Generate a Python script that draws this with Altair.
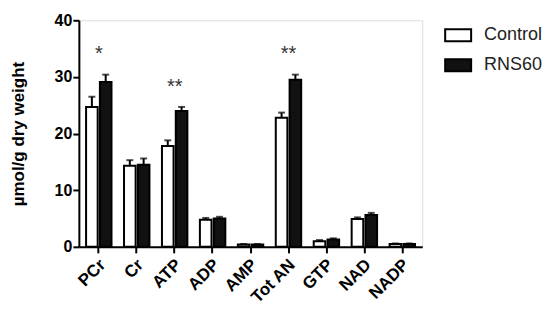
import altair as alt
import pandas as pd

categories = ["PCr", "Cr", "ATP", "ADP", "AMP", "Tot AN", "GTP", "NAD", "NADP"]
control_mean = [24.7, 14.3, 17.8, 4.8, 0.4, 22.8, 1.0, 4.9, 0.5]
control_sem = [1.8, 1.0, 1.0, 0.3, 0.1, 0.9, 0.2, 0.3, 0.1]
rns60_mean = [29.1, 14.5, 24.0, 5.0, 0.4, 29.5, 1.3, 5.6, 0.5]
rns60_sem = [1.3, 1.1, 0.7, 0.3, 0.1, 0.9, 0.2, 0.4, 0.1]
significance = ["*", "", "**", "", "", "**", "", "", ""]
groups = ["Control", "RNS60"]

rows = []
for i, c in enumerate(categories):
    rows.append({"cat": c, "group": "Control", "mean": control_mean[i],
                 "hi": control_mean[i] + control_sem[i]})
    rows.append({"cat": c, "group": "RNS60", "mean": rns60_mean[i],
                 "hi": rns60_mean[i] + rns60_sem[i]})
df = pd.DataFrame(rows)

stars = pd.DataFrame({
    "cat": categories,
    "label": significance,
    "y": [max(control_mean[i] + control_sem[i], rns60_mean[i] + rns60_sem[i]) + 3.6
          for i in range(len(categories))],
})
stars = stars[stars["label"] != ""]

FONT = "Liberation Sans"

xscale = alt.Scale(domain=categories, paddingInner=0.33, paddingOuter=0.19)
yscale = alt.Scale(domain=[0, 40], nice=False)
offscale = alt.Scale(domain=groups, paddingInner=0.16)

x = alt.X("cat:N", scale=xscale, sort=categories, title=None,
          axis=alt.Axis(labelAngle=315, labelFont=FONT, labelFontSize=17,
                        labelFontWeight="bold", labelColor="black",
                        domainColor="black", domainWidth=2, tickColor="black",
                        tickWidth=2, tickSize=6, labelPadding=9, labelOffset=4))
y = alt.Y("mean:Q", scale=yscale, title="µmol/g dry weight",
          axis=alt.Axis(values=[0, 10, 20, 30, 40], grid=False, labelFont=FONT,
                        labelFontSize=16, labelFontWeight="bold", labelColor="black",
                        domainColor="black", domainWidth=2, tickColor="black",
                        tickWidth=2, tickSize=6, labelPadding=1,
                        titleFont=FONT, titleFontSize=17, titleFontWeight="bold",
                        titleColor="black", titlePadding=27))

bars = alt.Chart(df).mark_bar(stroke="black", strokeWidth=2).encode(
    x=x,
    xOffset=alt.XOffset("group:N", scale=offscale, sort=groups),
    y=y,
    fill=alt.Fill("group:N", sort=groups,
                  scale=alt.Scale(domain=groups, range=["white", "#111111"]),
                  legend=alt.Legend(title=None, orient="none", legendX=366, legendY=1,
                                    symbolType="M-1,-0.46H1V0.46H-1Z", symbolSize=676,
                                    symbolStrokeColor="black", symbolStrokeWidth=2,
                                    labelFont=FONT, labelFontSize=18, labelColor="#222222",
                                    labelOffset=12, rowPadding=6)),
)

err = alt.Chart(df).mark_rule(color="black", strokeWidth=2).encode(
    x=alt.X("cat:N", scale=xscale, sort=categories),
    xOffset=alt.XOffset("group:N", scale=offscale, sort=groups),
    y=alt.Y("mean:Q", scale=yscale),
    y2="hi:Q",
)

caps = alt.Chart(df).mark_tick(color="black", thickness=2, size=7, orient="horizontal").encode(
    x=alt.X("cat:N", scale=xscale, sort=categories),
    xOffset=alt.XOffset("group:N", scale=offscale, sort=groups),
    y=alt.Y("hi:Q", scale=yscale),
)

star_text = alt.Chart(stars).mark_text(font=FONT, fontSize=20, fill="#333333",
                                       baseline="middle").encode(
    x=alt.X("cat:N", scale=xscale, sort=categories),
    y=alt.Y("y:Q", scale=yscale),
    text="label:N",
)

chart = alt.layer(err, bars, caps, star_text).properties(
    width=344, height=227,
    autosize=alt.AutoSizeParams(type="none"),
    padding={"left": 71, "top": 12, "right": 120, "bottom": 70},
).configure_view(stroke=None).configure(background="white")

chart.save("out.html", embed_options={"renderer": "svg", "actions": False})
